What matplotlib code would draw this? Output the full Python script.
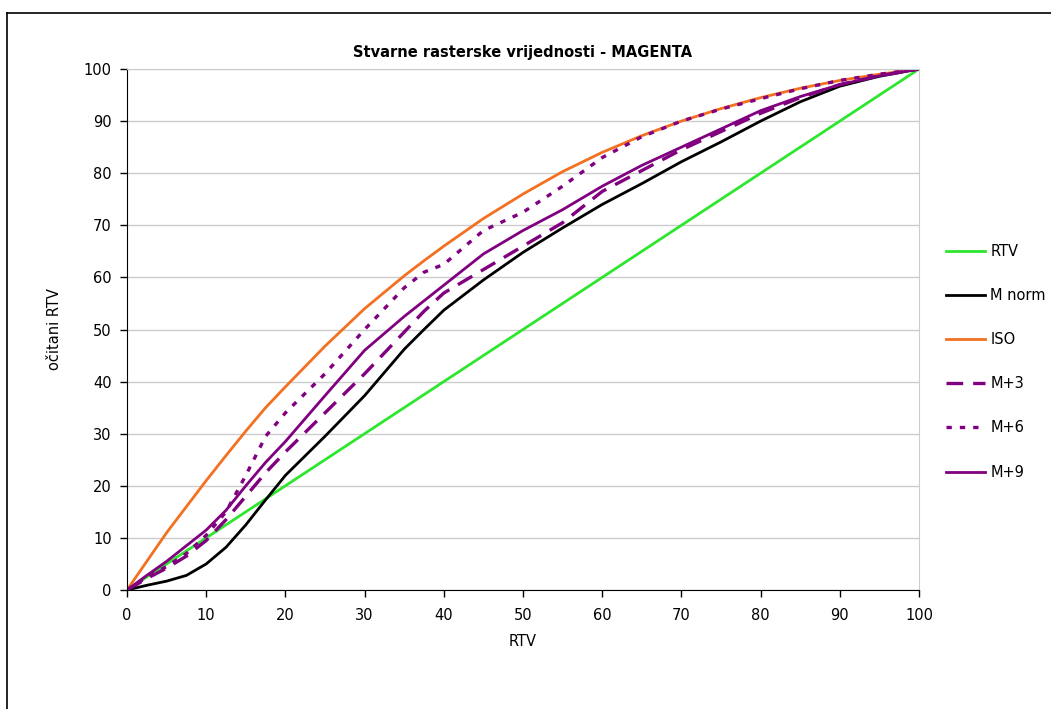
import matplotlib.pyplot as plt
from matplotlib.lines import Line2D

# RTV (nominal tone value) points
rtv = [0, 2.5, 5, 7.5, 10, 12.5, 15, 17.5, 20, 25, 30, 35, 37.5, 40, 45, 50,
       55, 60, 65, 70, 75, 80, 85, 90, 95, 100]

m_norm = [0, 0.9, 1.7, 2.8, 5, 8.2, 12.5, 17.3, 22, 29.5, 37.3, 46.2, 50, 53.7, 59.5, 64.8,
          69.5, 74, 78, 82.2, 86, 90, 93.7, 96.7, 98.6, 100]
iso = [0, 5.5, 11, 16, 21, 25.8, 30.5, 35, 39, 46.8, 54, 60.3, 63.2, 66, 71.3, 76,
       80.3, 84, 87.2, 90, 92.4, 94.5, 96.3, 97.8, 99, 100]
m_3 = [0, 2.2, 4.2, 6.5, 9.5, 13.5, 18, 22.5, 26.5, 34, 41.5, 49.5, 53.5, 57, 61.5, 66,
       70.5, 76.5, 80.5, 84.5, 88, 91.5, 94.5, 97, 98.7, 100]
m_6 = [0, 2.5, 4.5, 7, 10.5, 15, 22, 29.5, 34, 41.5, 50, 58, 61, 62.5, 69, 72.5,
       77.5, 83, 87, 90, 92.3, 94.3, 96.2, 97.8, 99, 100]
m_9 = [0, 2.8, 5.5, 8.5, 11.5, 15.3, 20, 24.5, 28.5, 37.3, 46, 52.5, 55.5, 58.5, 64.5, 69,
       73, 77.5, 81.5, 85, 88.5, 92, 94.7, 97, 98.7, 100]

labels = ['RTV', 'M norm', 'ISO', 'M+3', 'M+6', 'M+9']

plt.rcParams['font.family'] = 'DejaVu Sans'

fig = plt.figure(figsize=(10.51, 7.09), dpi=100)
ax = fig.add_axes([127/1051, 119/709, 792/1051, 521/709])

purple = '#800080'
lw = 2.0
ax.plot(rtv, rtv, color='#2ee62e', lw=lw, label=labels[0])
ax.plot(rtv, m_norm, color='black', lw=lw, label=labels[1])
ax.plot(rtv, iso, color='#f37021', lw=lw, label=labels[2])
ax.plot(rtv, m_3, color=purple, lw=2.4, dashes=(5, 3), label=labels[3])
ax.plot(rtv, m_6, color=purple, lw=2.4, dashes=(1.6, 2.4), label=labels[4])
ax.plot(rtv, m_9, color=purple, lw=lw, label=labels[5])

ax.set_xlim(0, 100)
ax.set_ylim(0, 100)
ax.set_xticks(range(0, 101, 10))
ax.set_yticks(range(0, 101, 10))
ax.yaxis.grid(True, color='#cccccc', lw=1)
ax.set_axisbelow(True)
ax.tick_params(direction='out', length=5, width=1, labelsize=10.5, color='black')
ax.tick_params(axis='y', pad=6)
ax.tick_params(axis='x', pad=8)
for s in ['top', 'right']:
    ax.spines[s].set_color('#cccccc')
for s in ['left', 'bottom']:
    ax.spines[s].set_color('black')

ax.set_title('Stvarne rasterske vrijednosti - MAGENTA', fontsize=10.5,
             fontweight='bold', pad=9)
ax.set_xlabel('RTV', fontsize=10.5, labelpad=8)
ax.set_ylabel('očitani RTV', fontsize=10.5, labelpad=16)

ax.legend(loc='upper left', bbox_to_anchor=(940/1051, 1 - 238/709),
          bbox_transform=fig.transFigure, frameon=False, fontsize=10.5,
          handlelength=2.7, handletextpad=0.35, labelspacing=2.0,
          borderaxespad=0)

# chart area border (only left and top visible)
fig.add_artist(Line2D([7/1051, 7/1051], [0, 1 - 13/709], color='black', lw=1.2,
                      transform=fig.transFigure))
fig.add_artist(Line2D([7/1051, 1], [1 - 13/709, 1 - 13/709], color='black', lw=1.2,
                      transform=fig.transFigure))

fig.savefig('out.png', dpi=100)
